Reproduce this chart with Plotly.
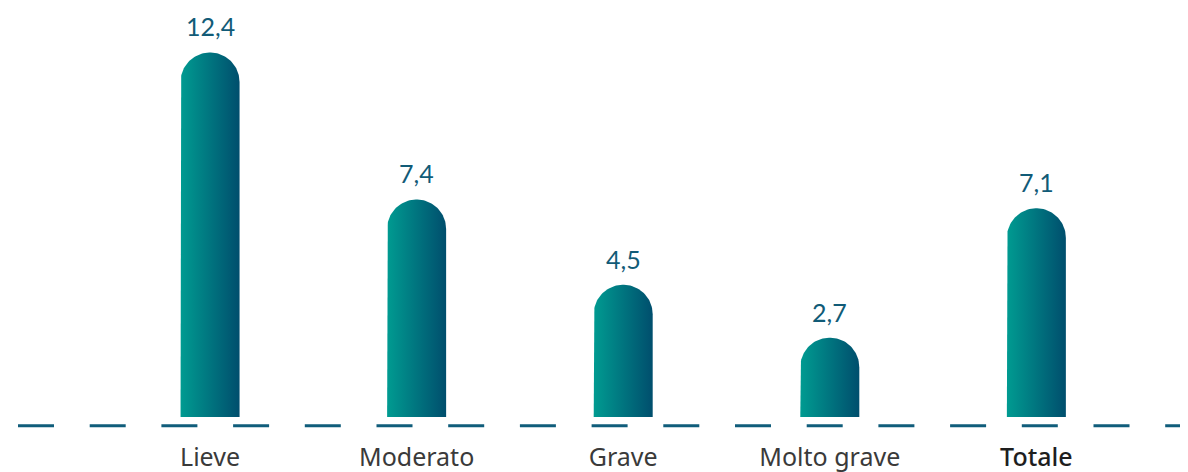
import numpy as np
import plotly.graph_objects as go

categories = ["Lieve", "Moderato", "Grave", "Molto grave", "Totale"]
values = [12.4, 7.4, 4.5, 2.7, 7.1]
tick_labels = ["Lieve", "Moderato", "Grave", "Molto grave",
               "<span style='font-weight:500;fill:#1e1e1e'>Totale</span>"]

W, H = 1180, 464
ML, MR, MT, MB = 0, 0, 0, 32
X_RANGE = [-0.978, 4.734]
Y_RANGE = [-0.782, 13.912]
px_x = (W - ML - MR) / (X_RANGE[1] - X_RANGE[0])
px_y = (H - MT - MB) / (Y_RANGE[1] - Y_RANGE[0])

bar_px = 59
hw = bar_px / 2 / px_x
ry = bar_px / 2 / px_y

label_color = "#115b77"
fig = go.Figure()
theta = np.linspace(np.pi, 0, 60)
for i, v in enumerate(values):
    c = i
    xs = [c - hw, c - hw] + list(c + hw * np.cos(theta)) + [c + hw, c - hw]
    ys = [0, v - ry] + list(v - ry + ry * np.sin(theta)) + [0, 0]
    fig.add_trace(go.Scatter(
        x=xs, y=ys, mode="lines", fill="toself",
        line=dict(width=0, color="rgba(0,0,0,0)"),
        fillgradient=dict(type="horizontal",
                          colorscale=[[0, "#009b91"], [1, "#004e6d"]],
                          start=c - hw, stop=c + hw),
        hoverinfo="skip", showlegend=False,
    ))
    fig.add_annotation(x=c, y=v, text=f"{v:.1f}".replace(".", ","),
                       showarrow=False, yanchor="middle", yshift=26,
                       font=dict(family="Lato", size=25, color=label_color))

fig.add_shape(type="line", xref="paper", yref="y",
              x0=10 / W, x1=1.0, y0=-8.7 / px_y, y1=-8.7 / px_y,
              line=dict(color="#105d7b", width=3, dash="36px,35.7px"))

fig.update_layout(
    width=W, height=H,
    margin=dict(l=ML, r=MR, t=MT, b=MB),
    paper_bgcolor="white", plot_bgcolor="white",
    xaxis=dict(range=X_RANGE, tickmode="array", tickvals=list(range(len(categories))),
               ticktext=tick_labels, showgrid=False, zeroline=False, showline=False,
               ticks="", tickfont=dict(family="Noto Sans", size=25, color="#3a3a3a")),
    yaxis=dict(range=Y_RANGE, visible=False, showgrid=False, zeroline=False),
)
fig.write_html("out.html")
